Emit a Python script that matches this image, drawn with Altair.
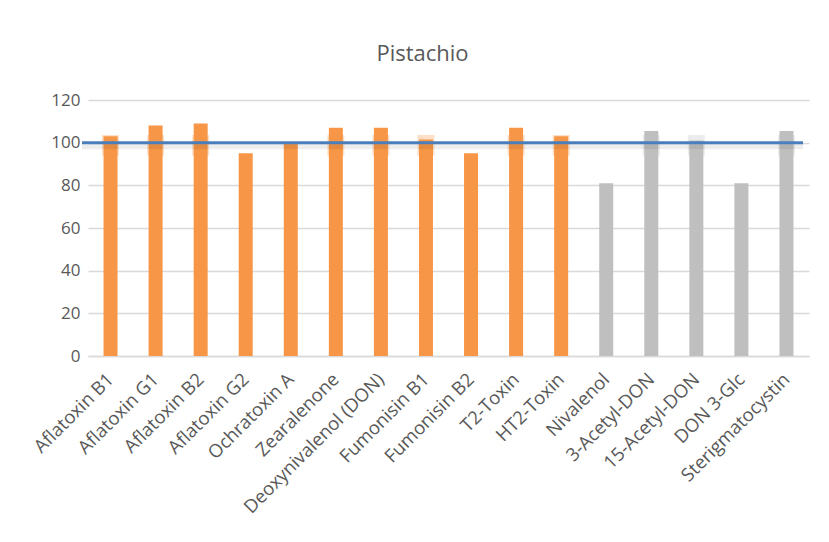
import altair as alt
import pandas as pd

categories = ["Aflatoxin B1", "Aflatoxin G1", "Aflatoxin B2", "Aflatoxin G2", "Ochratoxin A",
              "Zearalenone", "Deoxynivalenol (DON)", "Fumonisin B1", "Fumonisin B2", "T2-Toxin",
              "HT2-Toxin", "Nivalenol", "3-Acetyl-DON", "15-Acetyl-DON", "DON 3-Glc", "Sterigmatocystin"]
values = [103, 108, 109, 95, 99.5, 107, 107, 101.5, 95, 107, 103, 81, 105.5, 101, 81, 105.5]
groups = ["A"] * 11 + ["B"] * 5
band_lo = [94, 94, 94, None, None, 94, 94, 94, None, 94, 94, None, 94, 94, None, 94]
band_hi = [103.6, 103.6, 103.6, None, None, 103.6, 103.6, 103.6, None, 103.6, 103.6, None, 103.6, 103.6, None, 103.6]
target = [100]

df = pd.DataFrame({"cat": categories, "value": values, "grp": groups,
                   "lo": band_lo, "hi": band_hi})
tdf = pd.DataFrame({"t": target})

FONT = "Open Sans"
LABEL = "#595959"
GRID = "#D9D9D9"

color = alt.Color("grp:N", scale=alt.Scale(domain=["A", "B"], range=["#F79646", "#BFBFBF"]), legend=None)

x = alt.X("cat:N", sort=categories, title=None,
          scale=alt.Scale(paddingInner=0.0, paddingOuter=0.0),
          axis=alt.Axis(labelAngle=-45, labelAlign="right", labelBaseline="middle",
                        labelPadding=20, ticks=False, domainColor=GRID, domainWidth=1.5,
                        labelFontSize=18.5, labelColor=LABEL, labelFont=FONT, labelLimit=400))
y = alt.Y("value:Q", title=None, scale=alt.Scale(domain=[0, 120], nice=False),
          axis=alt.Axis(values=[0, 20, 40, 60, 80, 100, 120], domain=False, ticks=False,
                        gridColor=GRID, gridWidth=1.5, labelPadding=8, labelFontSize=17,
                        labelColor=LABEL, labelFont=FONT))

base = alt.Chart(df)

band = base.transform_filter("datum.lo != null").mark_bar(size=17, opacity=0.3).encode(
    x=x, y=alt.Y("lo:Q"), y2="hi:Q", color=color)

bars = base.mark_bar(size=14).encode(x=x, y=y, color=color)

shadow = alt.Chart(tdf).mark_rule(color="#000000", opacity=0.07, strokeWidth=5, yOffset=4).encode(
    y=alt.Y("t:Q"), x=alt.value(-6), x2=alt.value(715))
line = alt.Chart(tdf).mark_rule(color="#4A7EBB", strokeWidth=3).encode(
    y=alt.Y("t:Q"), x=alt.value(-6), x2=alt.value(715))

chart = alt.layer(band, bars, shadow, line).properties(
    width=721, height=256,
    title=alt.TitleParams("Pistachio", fontSize=22, color=LABEL, font=FONT, fontWeight="normal",
                          anchor="middle", dx=-26, offset=25),
    autosize=alt.AutoSizeParams(type="none"),
    padding={"left": 80, "top": 92, "right": 12, "bottom": 170},
).configure_view(stroke=None)

chart.save("out.html", embed_options={"renderer": "svg", "actions": False})
